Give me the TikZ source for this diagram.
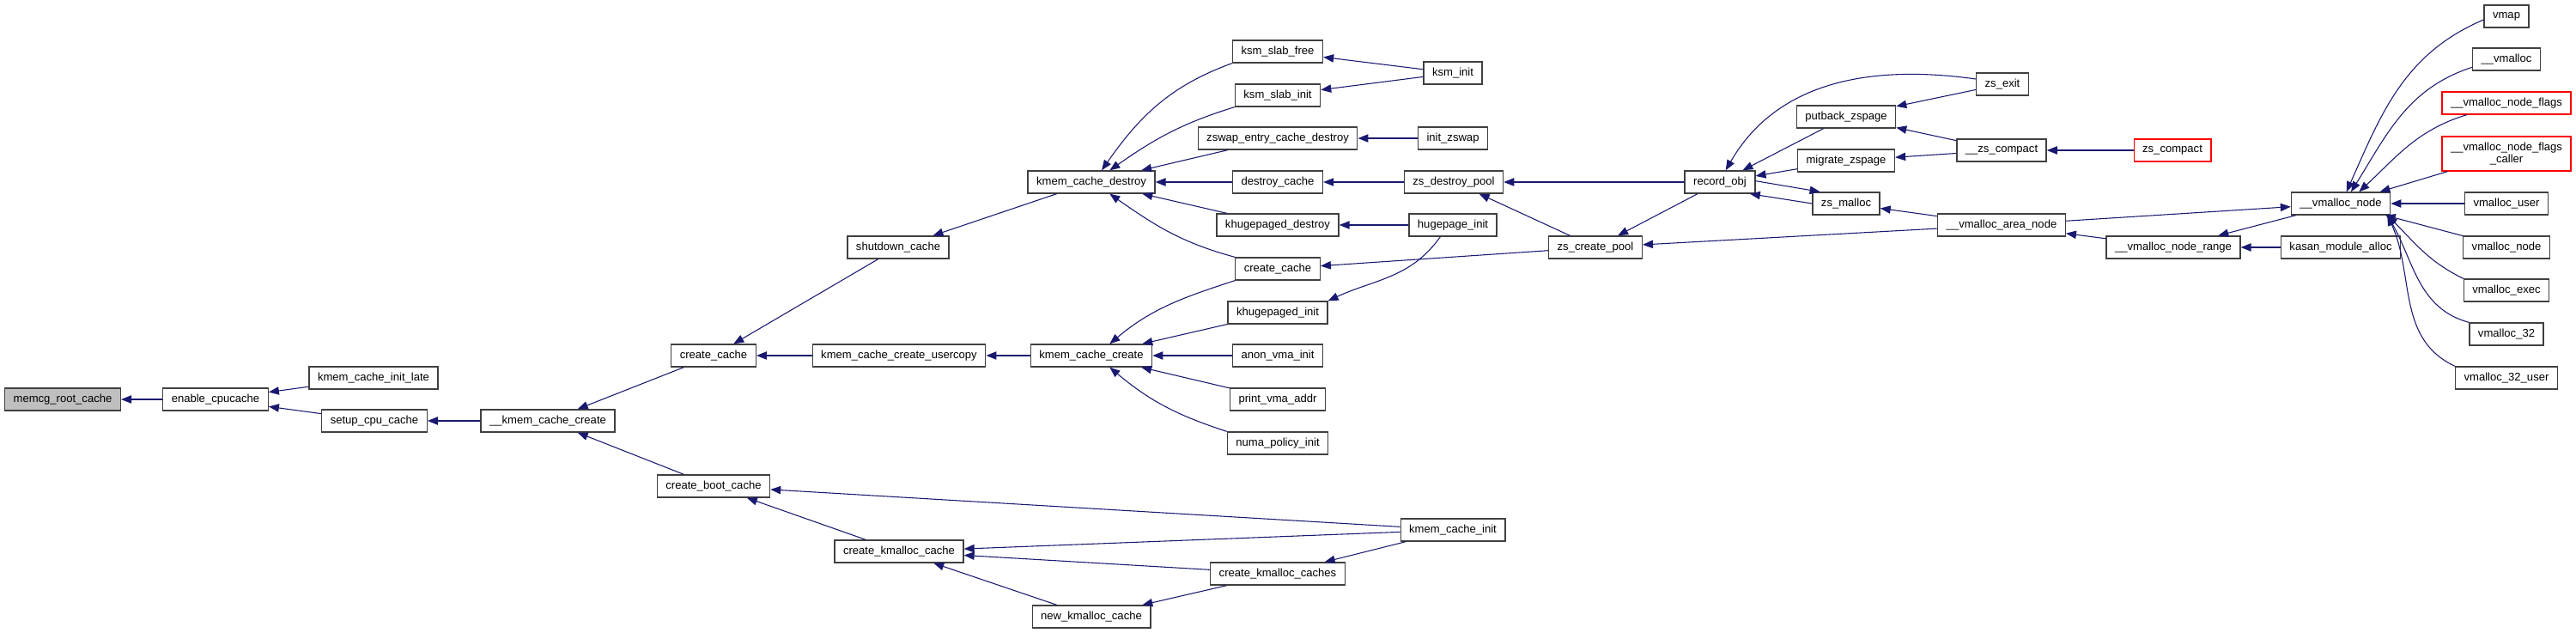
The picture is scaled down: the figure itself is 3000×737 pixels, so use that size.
\documentclass[tikz,border=0pt]{standalone}
\usepackage{fontspec}
\setmainfont{Liberation Sans}
\usetikzlibrary{arrows.meta}
\definecolor{edgeblue}{RGB}{25,25,112}
\definecolor{boxline}{RGB}{64,64,64}
\definecolor{boxgray}{RGB}{191,191,191}
\definecolor{boxred}{RGB}{255,0,0}
\tikzset{
  fnode/.style={draw=boxline,fill=white,line width=1pt,minimum height=19.5pt,inner xsep=7.5pt,inner ysep=1pt,
    align=center,font=\fontsize{9.8}{10.5}\selectfont},
  fnodegray/.style={fnode,fill=boxgray},
  fnodered/.style={fnode,draw=boxred},
  callarrow/.style={{Triangle[length=9pt,width=7pt]}-,line width=0.8pt,draw=edgeblue}
}
\begin{document}
\begin{tikzpicture}[x=0.75pt,y=-0.75pt]
  \useasboundingbox (0,0) rectangle (3000,737);
  % slab side
  \node[fnodegray] (memcg) at (73,465) {memcg\_root\_cache};
  \node[fnode] (enable) at (251,465) {enable\_cpucache};
  \node[fnode] (initlate) at (435,440) {kmem\_cache\_init\_late};
  \node[fnode] (setupcpu) at (436,490) {setup\_cpu\_cache};
  \node[fnode] (kmcreate) at (638,490) {\_\_kmem\_cache\_create};
  \node[fnode] (ccache) at (831,414) {create\_cache};
  \node[fnode] (bootcache) at (831,566) {create\_boot\_cache};
  \node[fnode] (shutdown) at (1046,288) {shutdown\_cache};
  \node[fnode] (usercopy) at (1047,414) {kmem\_cache\_create\_usercopy};
  \node[fnode] (kmcache) at (1047,642) {create\_kmalloc\_cache};
  \node[fnode] (destroy) at (1271,212) {kmem\_cache\_destroy};
  \node[fnode] (kcreate) at (1271,414) {kmem\_cache\_create};
  \node[fnode] (newkm) at (1271,718) {new\_kmalloc\_cache};

  \node[fnode] (slabfree) at (1488,60) {ksm\_slab\_free};
  \node[fnode] (slabinit) at (1488,111) {ksm\_slab\_init};
  \node[fnode] (zswapdes) at (1488,161) {zswap\_entry\_cache\_destroy};
  \node[fnode] (descache) at (1488,212) {destroy\_cache};
  \node[fnode] (khdestroy) at (1488,262) {khugepaged\_destroy};
  \node[fnode] (ccachetwo) at (1488,313) {create\_cache};
  \node[fnode] (khinit) at (1488,364) {khugepaged\_init};
  \node[fnode] (anonvma) at (1488,414) {anon\_vma\_init};
  \node[fnode] (printvma) at (1488,465) {print\_vma\_addr};
  \node[fnode] (numapol) at (1488,516) {numa\_policy\_init};
  \node[fnode] (kmcaches) at (1488,668) {create\_kmalloc\_caches};

  \node[fnode] (ksminit) at (1692,85) {ksm\_init};
  \node[fnode] (initzswap) at (1692,161) {init\_zswap};
  \node[fnode] (zsdestroy) at (1693,212) {zs\_destroy\_pool};
  \node[fnode] (hugeinit) at (1692,262) {hugepage\_init};
  \node[fnode] (kcinit) at (1692,617) {kmem\_cache\_init};

  % zsmalloc side
  \node[fnode] (zscreate) at (1858,288) {zs\_create\_pool};
  \node[fnode] (recordobj) at (2003,212) {record\_obj};
  \node[fnode] (putback) at (2150,136) {putback\_zspage};
  \node[fnode] (migrate) at (2150,187) {migrate\_zspage};
  \node[fnode] (zsmalloc) at (2150,237) {zs\_malloc};
  \node[fnode] (zsexit) at (2332,98) {zs\_exit};
  \node[fnode] (zscompactin) at (2331,175) {\_\_zs\_compact};
  \node[fnode] (areanode) at (2331,262) {\_\_vmalloc\_area\_node};
  \node[fnodered] (zscompact) at (2530,175) {zs\_compact};
  \node[fnode] (noderange) at (2531,288) {\_\_vmalloc\_node\_range};
  \node[fnode] (vmnode) at (2726,237) {\_\_vmalloc\_node};
  \node[fnode] (kasan) at (2726,288) {kasan\_module\_alloc};

  % vmalloc callers
  \node[fnode] (vmap) at (2919,19) {vmap};
  \node[fnode] (vmallocx) at (2919,69) {\_\_vmalloc};
  \node[fnodered] (nodeflags) at (2919,120) {\_\_vmalloc\_node\_flags};
  \node[fnodered,minimum height=30pt] (flagscaller) at (2919,179) {\_\_vmalloc\_node\_flags\\\_caller};
  \node[fnode] (vuser) at (2919,237) {vmalloc\_user};
  \node[fnode] (vnode) at (2919,288) {vmalloc\_node};
  \node[fnode] (vexec) at (2919,338) {vmalloc\_exec};
  \node[fnode] (vthirty) at (2919,389) {vmalloc\_32};
  \node[fnode] (vthirtyuser) at (2919,440) {vmalloc\_32\_user};

  \draw[callarrow] (memcg) -- (enable);
  \draw[callarrow] (enable) -- (initlate);
  \draw[callarrow] (enable) -- (setupcpu);
  \draw[callarrow] (setupcpu) -- (kmcreate);
  \draw[callarrow] (kmcreate) -- (ccache);
  \draw[callarrow] (kmcreate) -- (bootcache);
  \draw[callarrow] (ccache) -- (shutdown);
  \draw[callarrow] (ccache) -- (usercopy);
  \draw[callarrow] (usercopy) -- (kcreate);
  \draw[callarrow] (shutdown) -- (destroy);
  \draw[callarrow] (bootcache) -- (kmcache);
  \draw[callarrow] (bootcache) -- (kcinit);
  \draw[callarrow] (kmcache) -- (kcinit);
  \draw[callarrow] (kmcache) -- (kmcaches);
  \draw[callarrow] (kmcache) -- (newkm);
  \draw[callarrow] (newkm) -- (kmcaches);
  \draw[callarrow] (kmcaches) -- (kcinit);

  \draw[callarrow] ([xshift=9pt]destroy.north) to[out=55,in=200] (slabfree.south west);
  \draw[callarrow] ([xshift=16pt]destroy.north) to[out=35,in=197] (slabinit.south west);
  \draw[callarrow] (destroy) -- (zswapdes);
  \draw[callarrow] (destroy) -- (descache);
  \draw[callarrow] (destroy) -- (khdestroy);
  \draw[callarrow] ([xshift=16pt]destroy.south) to[out=-35,in=165] (ccachetwo.north west);
  \draw[callarrow] ([xshift=16pt]kcreate.north) to[out=40,in=198] (ccachetwo.south west);
  \draw[callarrow] (kcreate) -- (khinit);
  \draw[callarrow] (kcreate) -- (anonvma);
  \draw[callarrow] (kcreate) -- (printvma);
  \draw[callarrow] ([xshift=16pt]kcreate.south) to[out=-40,in=162] (numapol.north west);

  \draw[callarrow] (slabfree) -- (ksminit);
  \draw[callarrow] (slabinit) -- (ksminit);
  \draw[callarrow] (zswapdes) -- (initzswap);
  \draw[callarrow] (descache) -- (zsdestroy);
  \draw[callarrow] (khdestroy) -- (hugeinit);
  \draw[callarrow] (khinit.north east) to[out=25,in=235] ([xshift=-11pt]hugeinit.south);
  \draw[callarrow] (ccachetwo) -- (zscreate);
  \draw[callarrow] (zsdestroy) -- (zscreate);
  \draw[callarrow] (zsdestroy) -- (recordobj);
  \draw[callarrow] (zscreate) -- (recordobj);
  \draw[callarrow] (zscreate) -- (areanode);

  \draw[callarrow] ([xshift=5pt]recordobj.north) to[out=60,in=172] ([yshift=4.5pt]zsexit.west);
  \draw[callarrow] (recordobj) -- (putback);
  \draw[callarrow] (recordobj) -- (migrate);
  \draw[callarrow] ([xshift=7pt]zsmalloc.north west) -- ([yshift=1pt]recordobj.east);
  \draw[callarrow] ([xshift=-5pt]recordobj.south east) -- (zsmalloc.west);
  \draw[callarrow] (zsmalloc) -- (areanode);
  \draw[callarrow] (putback) -- (zsexit);
  \draw[callarrow] (putback) -- (zscompactin);
  \draw[callarrow] (migrate) -- (zscompactin);
  \draw[callarrow] (zscompactin) -- (zscompact);
  \draw[callarrow] (vmnode) -- (areanode);
  \draw[callarrow] (areanode) -- (noderange);
  \draw[callarrow] (noderange) -- (vmnode);
  \draw[callarrow] (noderange) -- (kasan);

  \draw[callarrow] ([xshift=5pt]vmnode.north) to[out=66,in=203] ([yshift=-3pt]vmap.west);
  \draw[callarrow] ([xshift=9pt]vmnode.north) to[out=58,in=198] ([yshift=-7pt]vmallocx.west);
  \draw[callarrow] ([xshift=16pt]vmnode.north) to[out=43,in=197] ([xshift=22pt]nodeflags.south west);
  \draw[callarrow] (vmnode) -- (flagscaller);
  \draw[callarrow] (vmnode) -- (vuser);
  \draw[callarrow] (vmnode) -- (vnode);
  \draw[callarrow] ([xshift=-3pt]vmnode.south east) to[out=-45,in=154] (vexec.north west);
  \draw[callarrow] ([xshift=-3pt]vmnode.south east) to[out=-60,in=165] (vthirty.north west);
  \draw[callarrow] ([xshift=-3pt]vmnode.south east) to[out=-65,in=155] (vthirtyuser.north west);
\end{tikzpicture}
\end{document}
